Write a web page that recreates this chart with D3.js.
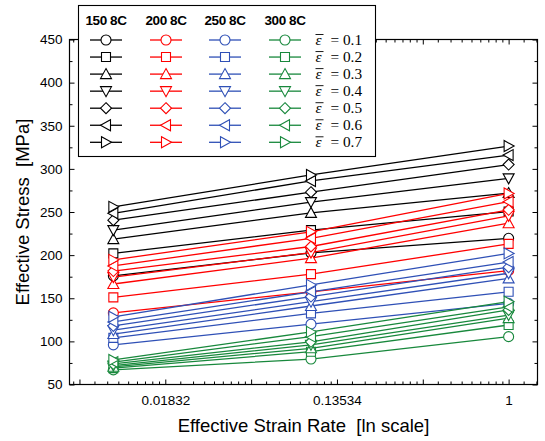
<!DOCTYPE html>
<html>
<head>
<meta charset="utf-8">
<script src="https://cdn.jsdelivr.net/npm/d3@7"></script>
<style>
  html, body { margin: 0; padding: 0; background: #fff; }
  svg { display: block; }
</style>
</head>
<body>
<svg id="chart" width="545" height="441"></svg>
<script>
// Strain rates (s^-1) at which each test was run
const rates = [0.01, 0.1, 1];
// Effective strain levels, one curve per level
const strainLevels = ["0.1", "0.2", "0.3", "0.4", "0.5", "0.6", "0.7"];
// Test temperatures
const temperatures = ["150", "200", "250", "300"];

// Effective stress [MPa]; rows = strain level 0.1..0.7, columns = strain rate
const stress150 = [
  [176.0, 202.5, 219.5],
  [202.0, 229.0, 250.5],
  [218.5, 249.0, 272.0],
  [229.0, 261.5, 289.0],
  [240.5, 273.0, 305.0],
  [248.5, 286.0, 316.0],
  [256.0, 293.0, 326.5]
];
const stress200 = [
  [133.0, 157.5, 182.0],
  [151.0, 178.0, 213.0],
  [166.5, 196.5, 237.0],
  [174.5, 203.0, 245.5],
  [181.5, 210.0, 252.5],
  [187.5, 219.5, 262.0],
  [194.5, 227.0, 271.5]
];
const stress250 = [
  [96.0, 120.0, 144.0],
  [104.0, 132.5, 157.5],
  [108.5, 141.0, 173.0],
  [113.0, 146.0, 179.0],
  [118.0, 152.0, 186.0],
  [122.5, 157.5, 192.0],
  [128.5, 165.5, 202.0]
];
const stress300 = [
  [67.0, 79.5, 105.5],
  [69.0, 88.0, 119.0],
  [70.5, 92.0, 127.0],
  [72.0, 96.0, 130.5],
  [74.0, 99.5, 136.5],
  [76.0, 105.5, 140.0],
  [78.5, 111.0, 146.0]
];

// Axis ticks
const xTickValues = [Math.exp(-4), Math.exp(-2), Math.exp(0)];
const xTickLabels = ["0.01832", "0.13534", "1"];
const yTickValues = [50, 100, 150, 200, 250, 300, 350, 400, 450];
const yMinorValues = [75, 125, 175, 225, 275, 325, 375, 425];

const stressByTemp = [stress150, stress200, stress250, stress300];
const colors = ["#000000", "#ff0000", "#2f50b6", "#18883c"];
const shapes = ["circle", "square", "up", "down", "diamond", "left", "right"];

const svg = d3.select("#chart");
const plotL = 69.5, plotR = 537.5, plotT = 39.5, plotB = 384.5;

const x = d3.scaleLog().base(Math.E).domain([0.006, 1.4]).range([plotL, plotR]);
const y = d3.scaleLinear().domain([50, 450]).range([plotB, plotT]);

// Open marker outlines, centred on the data point
function markerPath(shape) {
  const p = d3.path();
  const s = 5.5, b = 4.5;
  switch (shape) {
    case "circle": p.arc(0, 0, 5, 0, 2 * Math.PI); break;
    case "square": p.rect(-4.5, -4.5, 9, 9); break;
    case "up": p.moveTo(0, -s); p.lineTo(s, b); p.lineTo(-s, b); p.closePath(); break;
    case "down": p.moveTo(0, s); p.lineTo(s, -b); p.lineTo(-s, -b); p.closePath(); break;
    case "diamond": p.moveTo(0, -s); p.lineTo(s, 0); p.lineTo(0, s); p.lineTo(-s, 0); p.closePath(); break;
    case "left": p.moveTo(-s, 0); p.lineTo(b, -s); p.lineTo(b, s); p.closePath(); break;
    case "right": p.moveTo(s, 0); p.lineTo(-b, -s); p.lineTo(-b, s); p.closePath(); break;
  }
  return p.toString();
}

// Minor ticks on the ln axis: integer powers of e plus linear subdivisions
const xIntTicks = [];
const xMinorTicks = [];
for (let n = -6; n <= 1; n++) {
  const a = Math.exp(n), bnd = Math.exp(n + 1);
  if (a >= 0.006 && a <= 1.4 && n % 2 !== 0) xIntTicks.push(a);
  for (let i = 1; i <= 8; i++) {
    const v = a + i * (bnd - a) / 9;
    if (v > 0.006 && v < 1.4) xMinorTicks.push(v);
  }
}

const axisStyle = g => {
  g.selectAll("path.domain").remove();
  g.selectAll("line").attr("stroke", "#000").attr("stroke-width", 1);
  g.selectAll("text").attr("fill", "#000")
    .style("font-family", "Arial, 'Liberation Sans', sans-serif")
    .style("font-size", "13.5px");
};

// Bottom axis
svg.append("g").attr("transform", `translate(0,${plotB})`)
  .call(d3.axisBottom(x).tickValues(xTickValues)
    .tickFormat((d, i) => xTickLabels[i]).tickSizeInner(-5).tickSizeOuter(0).tickPadding(11))
  .call(axisStyle);
svg.append("g").attr("transform", `translate(0,${plotB})`)
  .call(d3.axisBottom(x).tickValues(xIntTicks).tickFormat("").tickSizeInner(-5).tickSizeOuter(0))
  .call(axisStyle);
svg.append("g").attr("transform", `translate(0,${plotB})`)
  .call(d3.axisBottom(x).tickValues(xMinorTicks).tickFormat("").tickSizeInner(-3).tickSizeOuter(0))
  .call(axisStyle);
// Top axis (ticks only)
svg.append("g").attr("transform", `translate(0,${plotT})`)
  .call(d3.axisTop(x).tickValues(xTickValues.concat(xIntTicks)).tickFormat("").tickSizeInner(-5).tickSizeOuter(0))
  .call(axisStyle);
svg.append("g").attr("transform", `translate(0,${plotT})`)
  .call(d3.axisTop(x).tickValues(xMinorTicks).tickFormat("").tickSizeInner(-3).tickSizeOuter(0))
  .call(axisStyle);
// Left axis
svg.append("g").attr("transform", `translate(${plotL},0)`)
  .call(d3.axisLeft(y).tickValues(yTickValues).tickFormat(d3.format("d"))
    .tickSizeInner(-5).tickSizeOuter(0).tickPadding(7))
  .call(axisStyle);
svg.append("g").attr("transform", `translate(${plotL},0)`)
  .call(d3.axisLeft(y).tickValues(yMinorValues).tickFormat("").tickSizeInner(-3).tickSizeOuter(0))
  .call(axisStyle);
// Right axis (ticks only)
svg.append("g").attr("transform", `translate(${plotR},0)`)
  .call(d3.axisRight(y).tickValues(yTickValues).tickFormat("").tickSizeInner(-5).tickSizeOuter(0))
  .call(axisStyle);
svg.append("g").attr("transform", `translate(${plotR},0)`)
  .call(d3.axisRight(y).tickValues(yMinorValues).tickFormat("").tickSizeInner(-3).tickSizeOuter(0))
  .call(axisStyle);

// Plot frame
svg.append("rect")
  .attr("x", plotL).attr("y", plotT)
  .attr("width", plotR - plotL).attr("height", plotB - plotT)
  .attr("fill", "none").attr("stroke", "#000").attr("stroke-width", 1.2);

// Axis titles
svg.append("text")
  .attr("x", (plotL + plotR) / 2).attr("y", 432)
  .attr("text-anchor", "middle")
  .style("font-family", "Arial, 'Liberation Sans', sans-serif")
  .style("font-size", "18.5px")
  .attr("xml:space", "preserve")
  .text("Effective Strain Rate  [ln scale]");
svg.append("text")
  .attr("transform", `translate(29,${(plotT + plotB) / 2}) rotate(-90)`)
  .attr("text-anchor", "middle")
  .style("font-family", "Arial, 'Liberation Sans', sans-serif")
  .style("font-size", "18.5px")
  .attr("xml:space", "preserve")
  .text("Effective Stress  [MPa]");

// Curves: one per temperature and strain level
const line = d3.line().x((d, i) => x(rates[i])).y(d => y(d));
const plot = svg.append("g");
stressByTemp.forEach((series, t) => {
  series.forEach((vals, k) => {
    const g = plot.append("g");
    g.append("path").attr("d", line(vals))
      .attr("fill", "none").attr("stroke", colors[t]).attr("stroke-width", 1.3);
    g.selectAll("path.mk").data(vals).join("path")
      .attr("class", "mk")
      .attr("transform", (d, i) => `translate(${x(rates[i])},${y(d)})`)
      .attr("d", markerPath(shapes[k]))
      .attr("fill", "#fff").attr("stroke", colors[t]).attr("stroke-width", 1.1);
  });
});

// Legend
const lg = svg.append("g");
lg.append("rect").attr("x", 78.5).attr("y", 5.5).attr("width", 297).attr("height", 151)
  .attr("fill", "#fff").attr("stroke", "#000").attr("stroke-width", 1.1);
const colX = [106, 166, 225, 285];
const rowY = strainLevels.map((s, i) => 40 + i * 17.05);
temperatures.forEach((tc, t) => {
  lg.append("text")
    .attr("x", colX[t]).attr("y", 25)
    .attr("text-anchor", "middle")
    .style("font-family", "Arial, 'Liberation Sans', sans-serif")
    .style("font-size", "13.5px").style("font-weight", "bold")
    .style("letter-spacing", "-0.4px")
    .text(tc + " 8C");
  strainLevels.forEach((s, k) => {
    lg.append("line")
      .attr("x1", colX[t] - 16).attr("x2", colX[t] + 16)
      .attr("y1", rowY[k]).attr("y2", rowY[k])
      .attr("stroke", colors[t]).attr("stroke-width", 1.3);
    lg.append("path")
      .attr("transform", `translate(${colX[t]},${rowY[k]})`)
      .attr("d", markerPath(shapes[k]))
      .attr("fill", "#fff").attr("stroke", colors[t]).attr("stroke-width", 1.1);
  });
});
const serif = "'Liberation Serif', 'Times New Roman', serif";
strainLevels.forEach((s, k) => {
  const base = rowY[k] + 5;
  lg.append("text").attr("x", 315.5).attr("y", base)
    .style("font-family", serif).style("font-size", "15.3px").style("font-style", "italic")
    .text("ε");
  lg.append("text").attr("x", 330.5).attr("y", base)
    .style("font-family", serif).style("font-size", "15.3px")
    .attr("xml:space", "preserve")
    .text("= " + s);
  // bar over the strain symbol
  lg.append("line")
    .attr("x1", 315.5).attr("x2", 323.5)
    .attr("y1", base - 10.5).attr("y2", base - 10.5)
    .attr("stroke", "#000").attr("stroke-width", 0.9);
});
</script>
</body>
</html>
